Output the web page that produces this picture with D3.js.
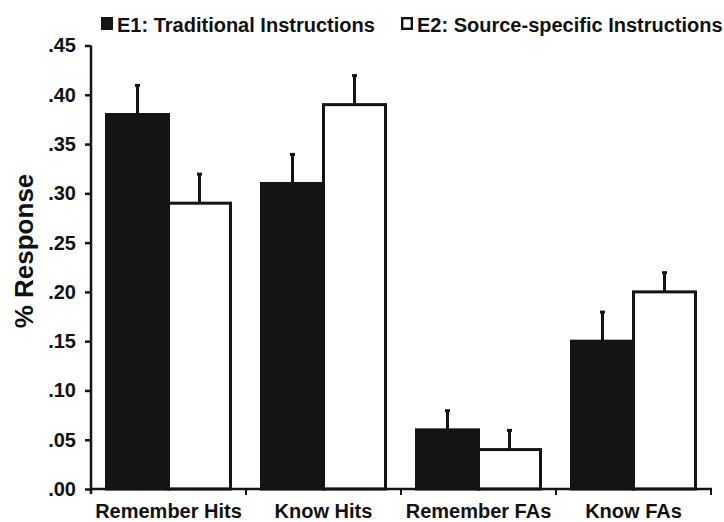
<!DOCTYPE html>
<html>
<head>
<meta charset="utf-8">
<script src="https://cdn.jsdelivr.net/npm/d3@7"></script>
<style>
  body { margin: 0; background: #fff; }
  text { font-family: "Liberation Sans", Arial, sans-serif; font-weight: bold; fill: #111; }
</style>
</head>
<body>
<svg id="chart" width="724" height="522"></svg>
<script>
// data
var categories = ["Remember Hits", "Know Hits", "Remember FAs", "Know FAs"];
var seriesNames = ["E1: Traditional Instructions", "E2: Source-specific Instructions"];
var e1Values = [0.38, 0.31, 0.06, 0.15];
var e2Values = [0.29, 0.39, 0.04, 0.20];
var e1Errors = [0.03, 0.03, 0.02, 0.03];
var e2Errors = [0.03, 0.03, 0.02, 0.02];
var yTicks = [0, 0.05, 0.10, 0.15, 0.20, 0.25, 0.30, 0.35, 0.40, 0.45];

var svg = d3.select("#chart");
var ink = "#131515";

var x0 = d3.scaleBand().domain(categories).range([91, 711]).paddingInner(0.2).paddingOuter(0.1);
var x1 = d3.scaleBand().domain([0, 1]).range([0, x0.bandwidth()]);
var y = d3.scaleLinear().domain([0, 0.45]).range([489, 45.5]);

var rows = [];
categories.forEach(function(c, i) {
	rows.push({cat: c, s: 0, v: e1Values[i], e: e1Errors[i]});
	rows.push({cat: c, s: 1, v: e2Values[i], e: e2Errors[i]});
});

// error bars (behind the bars)
var eb = svg.append("g").attr("class", "errors");
eb.selectAll("line").data(rows).enter().append("line")
	.attr("x1", d => x0(d.cat) + x1(d.s) + x1.bandwidth() / 2)
	.attr("x2", d => x0(d.cat) + x1(d.s) + x1.bandwidth() / 2)
	.attr("y1", d => y(d.v))
	.attr("y2", d => y(d.v + d.e))
	.attr("stroke", ink).attr("stroke-width", 3);
eb.selectAll("rect").data(rows).enter().append("rect")
	.attr("x", d => x0(d.cat) + x1(d.s) + x1.bandwidth() / 2 - 2.5)
	.attr("y", d => y(d.v + d.e) - 1)
	.attr("width", 5).attr("height", 3)
	.attr("fill", ink);

// bars
svg.append("g").selectAll("rect").data(rows).enter().append("rect")
	.attr("x", d => x0(d.cat) + x1(d.s))
	.attr("y", d => y(d.v))
	.attr("width", x1.bandwidth())
	.attr("height", d => y(0) - y(d.v))
	.attr("fill", d => d.s == 0 ? ink : "#fff")
	.attr("stroke", ink)
	.attr("stroke-width", 3);

// y axis
var yAxis = svg.append("g").attr("transform", "translate(91,0)")
	.call(d3.axisLeft(y).tickValues(yTicks).tickSize(6).tickPadding(9)
		.tickFormat(d => d3.format(".2f")(d).replace(/^0/, "")));
yAxis.select(".domain").attr("d", "M0," + y(0.45) + "V494").attr("stroke", ink).attr("stroke-width", 2.5);
yAxis.selectAll(".tick line").attr("stroke", ink).attr("stroke-width", 2.5);
yAxis.selectAll(".tick text").attr("font-size", 20).attr("font-family", null).attr("fill", ink);

// x axis: baseline + boundary ticks + labels
var xAxis = svg.append("g");
xAxis.append("line").attr("x1", 91).attr("x2", 712).attr("y1", y(0)).attr("y2", y(0))
	.attr("stroke", ink).attr("stroke-width", 2.5);
xAxis.selectAll("line.bound").data(categories).enter().append("line")
	.attr("class", "bound")
	.attr("x1", d => x0(d) - x0.step() * 0.1 + x0.step())
	.attr("x2", d => x0(d) - x0.step() * 0.1 + x0.step())
	.attr("y1", y(0)).attr("y2", y(0) + 6)
	.attr("stroke", ink).attr("stroke-width", 2);
xAxis.selectAll("text").data(categories).enter().append("text")
	.attr("x", d => x0(d) + x0.bandwidth() / 2)
	.attr("y", 518)
	.attr("text-anchor", "middle")
	.attr("font-size", 20)
	.text(d => d);

// y label
svg.append("text")
	.attr("transform", "translate(33,251) rotate(-90)")
	.attr("text-anchor", "middle")
	.attr("font-size", 26)
	.text("% Response");

// legend
var legendX = [101, 401];
var legend = svg.append("g").selectAll("g").data(seriesNames).enter().append("g")
	.attr("transform", (d, i) => "translate(" + legendX[i] + ",0)");
legend.append("rect")
	.attr("x", (d, i) => i == 0 ? 0 : 1.2)
	.attr("y", (d, i) => i == 0 ? 17 : 18.2)
	.attr("width", (d, i) => i == 0 ? 12 : 9.6)
	.attr("height", (d, i) => i == 0 ? 13 : 10.6)
	.attr("fill", (d, i) => i == 0 ? ink : "#fff")
	.attr("stroke", ink)
	.attr("stroke-width", (d, i) => i == 0 ? 0 : 2.4);
legend.append("text")
	.attr("x", 16)
	.attr("y", 32)
	.attr("font-size", 20)
	.text(d => d);
</script>
</body>
</html>
